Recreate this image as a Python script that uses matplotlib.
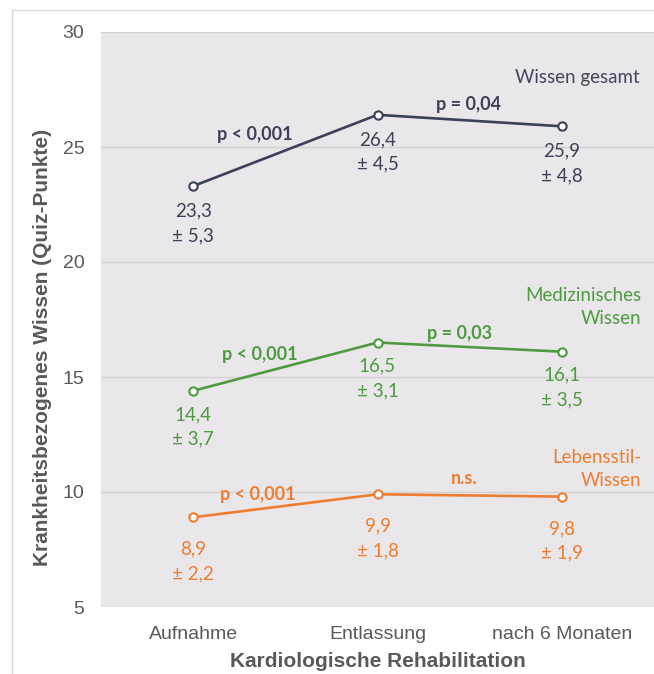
import numpy as np
import matplotlib.pyplot as plt
from matplotlib.lines import Line2D

# data
phases = ['Aufnahme', 'Entlassung', 'nach 6 Monaten']
gesamt = [23.3, 26.4, 25.9]
gesamt_sd = [5.3, 4.5, 4.8]
medizin = [14.4, 16.5, 16.1]
medizin_sd = [3.7, 3.1, 3.5]
lebensstil = [8.9, 9.9, 9.8]
lebensstil_sd = [2.2, 1.8, 1.9]
p_gesamt = ['p < 0,001', 'p = 0,04']
p_medizin = ['p < 0,001', 'p = 0,03']
p_lebensstil = ['p < 0,001', 'n.s.']
yticks = [5, 10, 15, 20, 25, 30]

c_dark = '#3d4157'
c_green = '#4e9a41'
c_orange = '#ee7d31'
c_text = '#595959'
afont = 'Lato'
fs = 13.5

fig = plt.figure(figsize=(6.54, 6.74), dpi=100)
ax = fig.add_axes([101/654, 67/674, 553/654, 575/674])
ax.set_facecolor('#e9e7ea')

# frame around the figure (left and top edges visible)
fig.add_artist(Line2D([12/654, 12/654], [0, 1 - 10/674], color='#d9d9d9', lw=1))
fig.add_artist(Line2D([12/654, 1], [1 - 10/674, 1 - 10/674], color='#d9d9d9', lw=1))

x = np.arange(len(phases))

def fmt(v):
    return f'{v:.1f}'.replace('.', ',')

series = [
    (gesamt, gesamt_sd, p_gesamt, c_dark, -18, [(-22, 11.5), (-1, 11.9)]),
    (medizin, medizin_sd, p_medizin, c_green, -17, [(-18.4, 8.9), (-7.6, 10)]),
    (lebensstil, lebensstil_sd, p_lebensstil, c_orange, -23, [(-19.8, 7.8), (-4, 11.9)]),
]

for vals, sds, ps, col, off, poff in series:
    ax.plot(x, vals, color=col, lw=1.9, marker='o', ms=6, mfc='white',
            mec=col, mew=1.5, zorder=3)
    for xi, v, s in zip(x, vals, sds):
        ax.annotate(fmt(v), (xi, v), xytext=(0, off), textcoords='offset points',
                    ha='center', va='center', color=col, fontsize=fs, family=afont)
        ax.annotate('± ' + fmt(s), (xi, v), xytext=(0, off - 17.5), textcoords='offset points',
                    ha='center', va='center', color=col, fontsize=fs, family=afont)
    for i, p in enumerate(ps):
        xm = (x[i] + x[i + 1]) / 2
        ym = (vals[i] + vals[i + 1]) / 2
        ax.annotate(p, (xm, ym), xytext=poff[i], textcoords='offset points',
                    ha='center', va='center', color=col, fontsize=13,
                    fontweight='bold', family=afont)

ax.text(2.42, 28.0, 'Wissen gesamt', ha='right', va='center', color='#44475a',
        fontsize=fs, family=afont)
ax.text(2.43, 18.05, 'Medizinisches\nWissen', ha='right', va='center', color=c_green,
        fontsize=fs, family=afont, linespacing=1.45)
ax.text(2.43, 11.0, 'Lebensstil-\nWissen', ha='right', va='center', color=c_orange,
        fontsize=fs, family=afont, linespacing=1.45)

ax.set_xlim(-0.5, 2.5)
ax.set_ylim(5, 30)
ax.set_yticks(yticks)
ax.set_xticks(x)
ax.set_xticklabels(phases)
ax.tick_params(length=0, labelsize=14, labelcolor=c_text)
ax.tick_params(axis='y', pad=12)
ax.tick_params(axis='x', pad=14)
ax.grid(axis='y', color='#d2d2d2', lw=1)
ax.set_axisbelow(True)
for s in ax.spines.values():
    s.set_visible(False)

ax.set_xlabel('Kardiologische Rehabilitation', fontsize=15, fontweight='bold',
              color=c_text, labelpad=6)
ax.set_ylabel('Krankheitsbezogenes Wissen (Quiz-Punkte)', fontsize=15,
              fontweight='bold', color=c_text)
ax.yaxis.set_label_coords(-0.088, 0.452)

for lab in ax.get_xticklabels() + ax.get_yticklabels():
    lab.set_family('Liberation Sans')
ax.xaxis.label.set_family('Liberation Sans')
ax.yaxis.label.set_family('Liberation Sans')

fig.savefig('out.png', dpi=100)
